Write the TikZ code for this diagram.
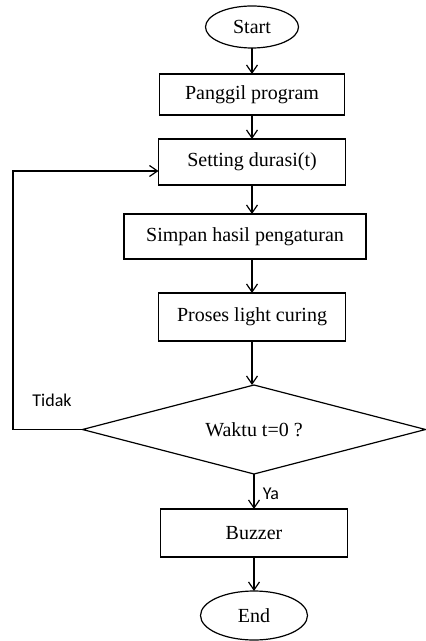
\documentclass[tikz,border=0pt]{standalone}
\usepackage{fontspec}
\setmainfont{Liberation Serif}
\newfontfamily\labelfont{Carlito}
\usetikzlibrary{shapes.geometric,arrows.meta}

\begin{document}
\begin{tikzpicture}[y=0.50pt, x=0.50pt, yscale=-1.000000, xscale=1.000000, inner sep=0pt, outer sep=0pt,
	line width=0.6pt,
	flowbox/.style={rectangle, draw=black, line width=0.6pt},
	term/.style={ellipse, draw=black, line width=0.6pt},
	decide/.style={diamond, aspect=3.8, draw=black, line width=0.6pt, minimum width=171.5pt, minimum height=44.5pt},
	flow/.style={-{Straight Barb[length=4pt, width=5.5pt]}, line width=0.6pt},
	tag/.style={font=\labelfont\fontsize{9}{10}\selectfont}]
\useasboundingbox (0,0) rectangle (425,641);
	\node[term, minimum width=46.5pt, minimum height=21pt] (start) at (252,27) {Start};
	\node[flowbox, minimum width=92.5pt, minimum height=20.5pt] (panggil) at (252,94.5) {Panggil program};
	\node[flowbox, minimum width=93.5pt, minimum height=23pt] (setting) at (252,162) {Setting durasi(t)};
	\node[flowbox, minimum width=121pt, minimum height=22.5pt] (simpan) at (245,236.5) {Simpan hasil pengaturan};
	\node[flowbox, minimum width=93.5pt, minimum height=24pt] (proses) at (252,317) {Proses light curing};
	\node[decide] (cek) at (254,429.5) {Waktu t=0 ?};
	\node[flowbox, minimum width=93.5pt, minimum height=24pt] (buzzer) at (254,533) {Buzzer};
	\node[term, minimum width=53.5pt, minimum height=24.5pt] (end) at (254,615.5) {End};
	\coordinate (balik) at (13,171);
	\node[tag] (tidak) at (52,400) {Tidak};
	\node[tag] (ya) at (271,494) {Ya};
	\draw[flow] (start) -- (start |- panggil.north);
	\draw[flow] (panggil) -- (panggil |- setting.north);
	\draw[flow] (setting) -- (setting |- simpan.north);
	\draw[flow] (simpan.south -| proses) -- (proses);
	\draw[flow] (proses) -- (proses |- cek.north);
	\draw[flow] (cek) -- (buzzer);
	\draw[flow] (buzzer) -- (end);
	\draw[flow] (cek.west) -| (balik) -- (balik -| setting.west);
\end{tikzpicture}
\end{document}
